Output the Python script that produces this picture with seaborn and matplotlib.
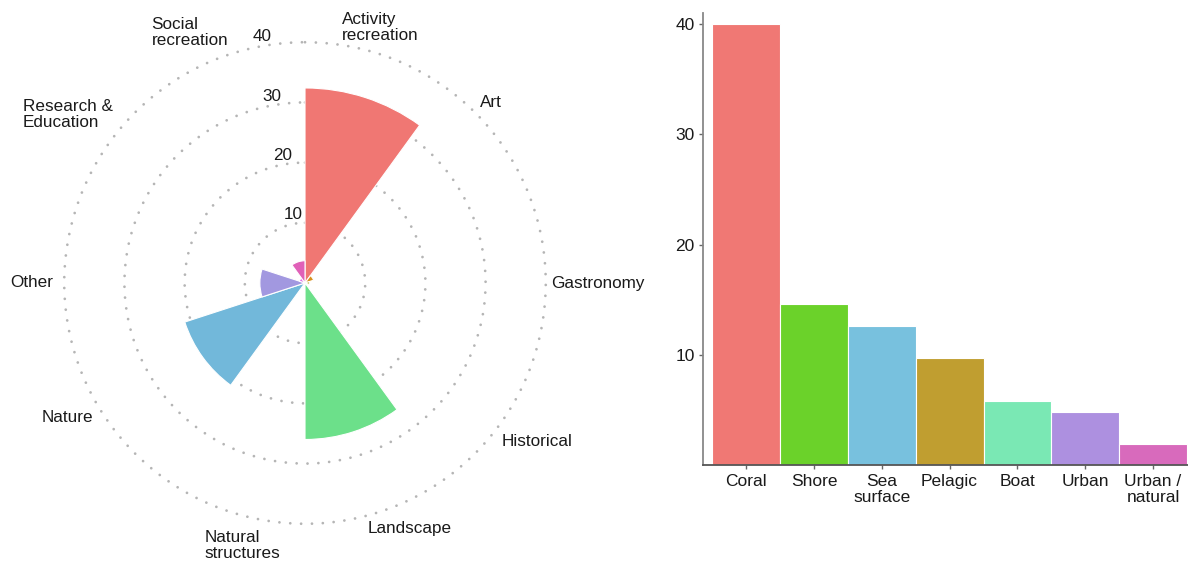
import numpy as np
import matplotlib
matplotlib.use("Agg")
import matplotlib.pyplot as plt
import seaborn as sns

# --- data ---
motive_labels = ["Activity\nrecreation", "Art", "Gastronomy", "Historical", "Landscape",
                 "Natural\nstructures", "Nature", "Other", "Research &\nEducation", "Social\nrecreation"]
motive_values = [32.4, 1.5, 0.8, 0.0, 26.0, 0.0, 21.0, 7.5, 1.0, 3.7]
motive_colors = ["#F07773", "#D8901C", "#B0B030", "#5CC040", "#6CE08A",
                 "#4CC8C8", "#72B8DA", "#A298E0", "#E070E8", "#E060B8"]
r_ticks = [10, 20, 30, 40]

habitat_labels = ["Coral", "Shore", "Sea\nsurface", "Pelagic", "Boat", "Urban", "Urban /\nnatural"]
habitat_values = [40.0, 14.6, 12.6, 9.7, 5.8, 4.8, 1.9]
habitat_colors = ["#F07874", "#6BD22A", "#78C1DE", "#C09E30", "#7AE8B4", "#AD90E0", "#D86ABC"]
y_ticks = [10, 20, 30, 40]

# label placement around the polar chart (theta in degrees, radius in data units)
label_pos = [(16.4, 44.3), (45.8, 43.1), (90.1, 48.7), (124.4, 46.7), (156.9, 44.4),
             (193.4, 44.9), (240.4, 45.3), (270.0, 45.4), (305.4, 48.3), (335.3, 45.8)]

sns.set_theme(style="white")
plt.rcParams["font.family"] = ["Liberation Sans", "DejaVu Sans"]
TXT = "#1a1a1a"

fig = plt.figure(figsize=(11.88, 5.66), dpi=100)

# --- polar chart ---
ax = fig.add_axes([0.04394, 0.05336, 0.4256, 0.8933], projection="polar")
ax.set_theta_zero_location("N")
ax.set_theta_direction(-1)
n = len(motive_values)
width = 2 * np.pi / n
theta = np.arange(n) * width
ax.bar(theta, motive_values, width=width, align="edge", color=motive_colors,
       edgecolor="white", linewidth=0.8, zorder=3)
ax.set_ylim(0, 42)
ax.set_yticks(r_ticks)
ax.set_yticklabels([])
ax.set_xticks([])
ax.xaxis.grid(False)
ax.yaxis.grid(True, color="#B5B5B5", linestyle=(0, (0.01, 3.9)), linewidth=2.0,
              dash_capstyle="round")
ax.spines["polar"].set_visible(False)
ax.set_facecolor("none")
for v in r_ticks:
    ax.text(np.deg2rad(-10), v + 1.5, str(v), ha="center", va="center",
            fontsize=12.3, color=TXT)
for lab, (t, r) in zip(motive_labels, label_pos):
    ax.text(np.deg2rad(t), r, lab, ha="center", va="center", fontsize=12.3,
            color=TXT, multialignment="left", linespacing=1.1)

# --- bar chart ---
ax2 = fig.add_axes([0.5918, 0.178, 0.4082, 0.7995])
sns.barplot(x=habitat_labels, y=habitat_values, hue=habitat_labels, palette=habitat_colors,
            width=1, saturation=1, edgecolor="white", linewidth=0.8, legend=False, ax=ax2)
ax2.set_xlim(-0.635, 6.515)
ax2.set_ylim(0, 41)
ax2.set_yticks(y_ticks)
ax2.set_xlabel("")
ax2.set_ylabel("")
sns.despine(ax=ax2)
ax2.spines["left"].set_color("#888888")
ax2.spines["bottom"].set_color("#555555")
for s in ["left", "bottom"]:
    ax2.spines[s].set_linewidth(1.3)
ax2.tick_params(axis="both", which="both", length=3, width=1, color="#666666",
                labelsize=12.5, labelcolor=TXT, pad=3, bottom=True, left=True)
for lbl in ax2.get_xticklabels():
    lbl.set_linespacing(1.1)

fig.savefig("out.png", dpi=100)
